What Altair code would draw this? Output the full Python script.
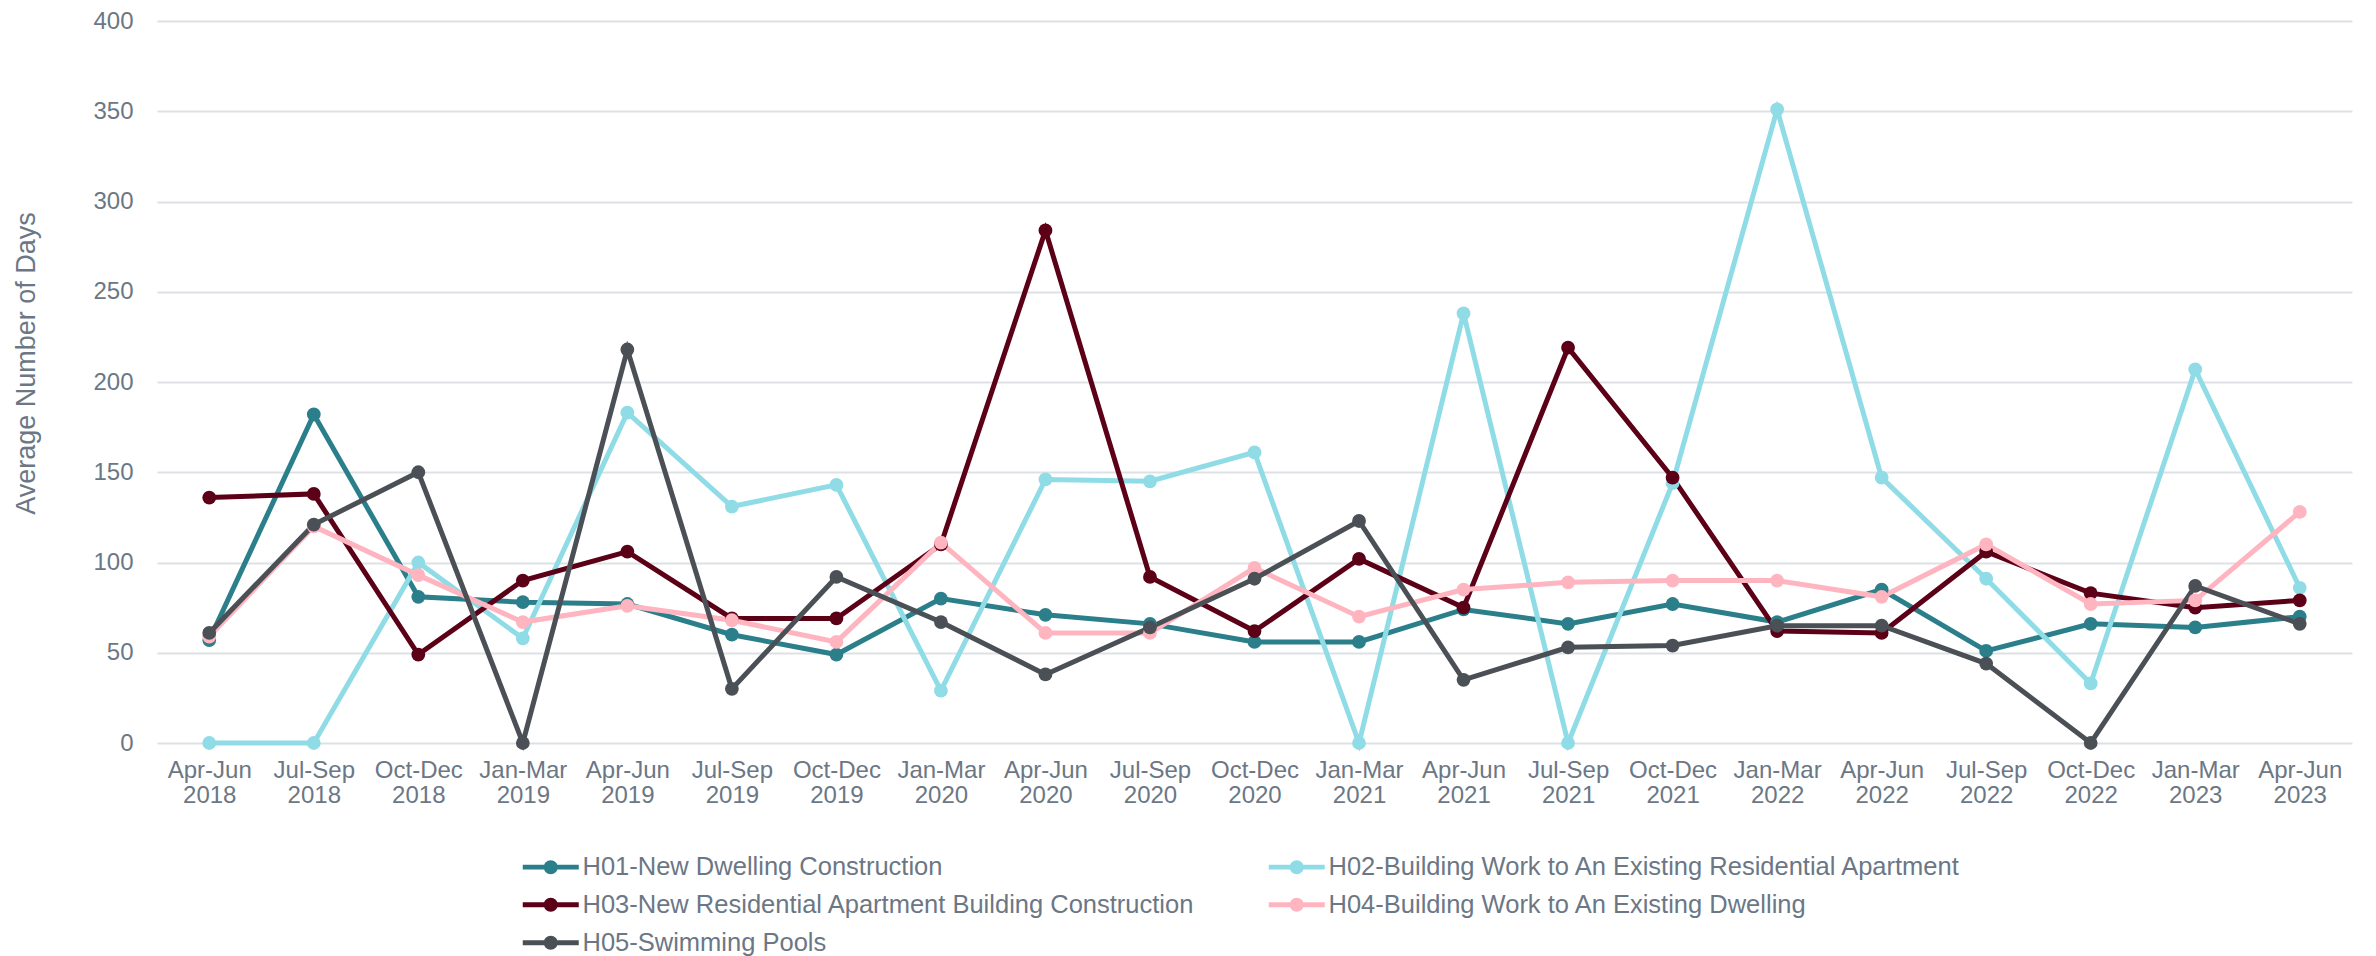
import altair as alt
import pandas as pd

quarters = [
    "Apr-Jun 2018", "Jul-Sep 2018", "Oct-Dec 2018", "Jan-Mar 2019", "Apr-Jun 2019",
    "Jul-Sep 2019", "Oct-Dec 2019", "Jan-Mar 2020", "Apr-Jun 2020", "Jul-Sep 2020",
    "Oct-Dec 2020", "Jan-Mar 2021", "Apr-Jun 2021", "Jul-Sep 2021", "Oct-Dec 2021",
    "Jan-Mar 2022", "Apr-Jun 2022", "Jul-Sep 2022", "Oct-Dec 2022", "Jan-Mar 2023",
    "Apr-Jun 2023",
]

series_names = [
    "H01-New Dwelling Construction",
    "H02-Building Work to An Existing Residential Apartment",
    "H03-New Residential Apartment Building Construction",
    "H04-Building Work to An Existing Dwelling",
    "H05-Swimming Pools",
]

h01 = [57, 182, 81, 78, 77, 60, 49, 80, 71, 66, 56, 56, 74, 66, 77, 67, 85, 51, 66, 64, 70]
h02 = [0, 0, 100, 58, 183, 131, 143, 29, 146, 145, 161, 0, 238, 0, 144, 351, 147, 91, 33, 207, 86]
h03 = [136, 138, 49, 90, 106, 69, 69, 110, 284, 92, 62, 102, 75, 219, 147, 62, 61, 106, 83, 75, 79]
h04 = [59, 120, 93, 67, 76, 68, 56, 111, 61, 61, 97, 70, 85, 89, 90, 90, 81, 110, 77, 79, 128]
h05 = [61, 121, 150, 0, 218, 30, 92, 67, 38, 64, 91, 123, 35, 53, 54, 65, 65, 44, 0, 87, 66]

colors = ["#2b7f8a", "#8fdce6", "#5c0018", "#ffb5c0", "#4a5055"]

rows = []
for name, vals in zip(series_names, [h01, h02, h03, h04, h05]):
    for q, v in zip(quarters, vals):
        rows.append({"Quarter": q, "Series": name, "Days": v})
df = pd.DataFrame(rows)

FONT = "Liberation Sans"
TXT = "#6b7785"

color = alt.Color(
    "Series:N",
    scale=alt.Scale(domain=series_names, range=colors),
    legend=alt.Legend(
        orient="none",
        legendX=381,
        legendY=833,
        direction="horizontal",
        columns=2,
        title=None,
        symbolType="M-4,-0.34 L4,-0.34 L4,0.34 L-4,0.34 Z M-1,0 A1,1 0 1,1 1,0 A1,1 0 1,1 -1,0 Z",
        symbolSize=196,
        symbolStrokeWidth=0,
        symbolOpacity=1,
        labelFont=FONT,
        labelFontSize=25.5,
        labelColor=TXT,
        labelOffset=19,
        labelLimit=1000,
        rowPadding=11,
        columnPadding=73,
    ),
)

x = alt.X(
    "Quarter:N",
    sort=quarters,
    scale=alt.Scale(type="point", padding=0.5),
    axis=alt.Axis(
        title=None,
        labelAngle=0,
        labelExpr="split(datum.label, ' ')",
        labelFont=FONT,
        labelFontSize=24,
        labelColor=TXT,
        labelLineHeight=25,
        labelPadding=15,
        ticks=False,
        domain=False,
        grid=False,
    ),
)

y = alt.Y(
    "Days:Q",
    scale=alt.Scale(domain=[0, 400]),
    axis=alt.Axis(
        title="Average Number of Days",
        values=[0, 50, 100, 150, 200, 250, 300, 350, 400],
        titleFont=FONT,
        titleFontSize=27,
        titleFontWeight="normal",
        titleColor=TXT,
        titlePadding=52,
        titleY=342,
        labelFont=FONT,
        labelFontSize=24,
        labelColor=TXT,
        labelPadding=24,
        ticks=False,
        domain=False,
        grid=True,
        gridColor="#dde1e5",
        gridWidth=2,
    ),
)

base = alt.Chart(df).encode(x=x, y=y, color=color)

chart = alt.layer(
    base.mark_line(strokeWidth=5),
    base.mark_point(filled=True, size=190, opacity=1),
).properties(
    width=2195,
    height=722,
    padding={"left": 4, "top": 1, "right": 5, "bottom": 0},
).configure_view(stroke=None)

chart.save("out.html", embed_options={"renderer": "svg", "actions": False})
